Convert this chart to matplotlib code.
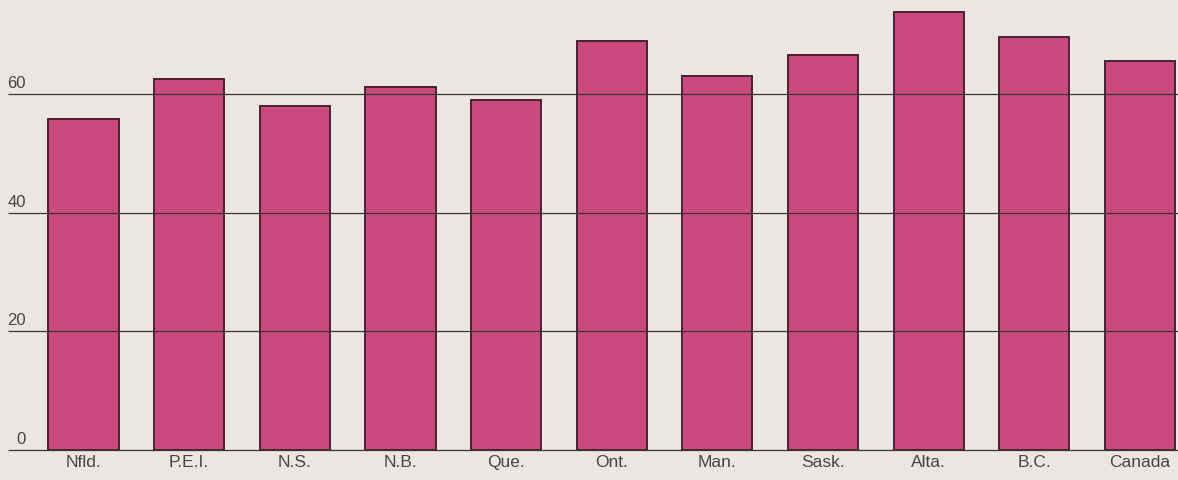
import matplotlib

matplotlib.use("Agg")
import matplotlib.pyplot as plt

regions = ["Nfld.", "P.E.I.", "N.S.", "N.B.", "Que.", "Ont.", "Man.", "Sask.", "Alta.", "B.C.", "Canada"]
values = [55.8, 62.6, 58.0, 61.2, 59.0, 69.0, 63.1, 66.6, 73.9, 69.6, 65.6]
grid_levels = [0, 20, 40, 60]

_BG = "#ebe6e1"
_BAR = "#cb4a7e"
_EDGE = "#4a2232"
_LINE = "#3a3434"
_TEXT = "#4a4444"

fig = plt.figure(figsize=(11.78, 4.8), dpi=100)
fig.patch.set_facecolor(_BG)
ax = fig.add_axes([0, 0, 1, 1])
ax.set_facecolor(_BG)
ax.set_xlim(-0.79, 10.36)
ax.set_ylim(-5.06, 75.9)
ax.axis("off")

x = list(range(len(regions)))
ax.bar(x, values, width=0.665, color=_BAR, edgecolor=_EDGE, linewidth=1.4, zorder=2)

# horizontal rules run across the bars
for level in grid_levels:
    ax.hlines(level, -0.715, 10.36, color=_LINE, linewidth=0.9, zorder=3)
    ax.text(-0.545, level + 0.5, str(level), ha="right", va="bottom",
            fontsize=12, color=_TEXT, family="Liberation Sans", zorder=4)

for xi, name in zip(x, regions):
    ax.text(xi, -2.1, name, ha="center", va="center", fontsize=12.5,
            color=_TEXT, family="Liberation Sans")

fig.savefig("out.png", dpi=100, facecolor=_BG)
